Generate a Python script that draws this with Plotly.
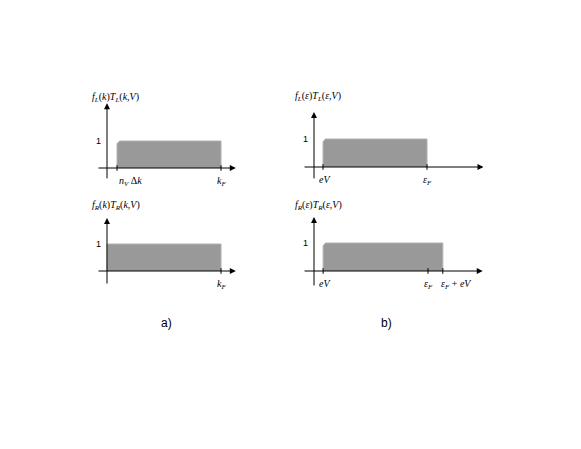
import plotly.graph_objects as go

W, H = 581, 449
PAD = 8  # the page body has an 8px margin
FW, FH = W - 2 * PAD, H - 2 * PAD

# ---- data (schematic values, units of k_F / eps_F) ----
# panel a) top: f_L(k) T_L(k,V)
aTop_x = [0.088, 0.088, 0.11, 1.0, 1.0]
aTop_y = [0, 0.9, 1.0, 1.0, 0]
# panel a) bottom: f_R(k) T_R(k,V)
aBot_x = [0.0, 0.0, 1.0, 1.0]
aBot_y = [0, 1.0, 1.0, 0]
# panel b) top: f_L(eps) T_L(eps,V)
bTop_x = [0.08, 0.08, 0.10, 1.0, 1.0]
bTop_y = [0, 0.9, 1.0, 1.0, 0]
# panel b) bottom: f_R(eps) T_R(eps,V)
bBot_x = [0.08, 0.08, 0.10, 1.13, 1.13]
bBot_y = [0, 0.9, 1.0, 1.0, 0]

aTop_ticks = [0.088, 1.0]
aTop_labels = ["<i>n</i><sub><i>V</i></sub> Δ<i>k</i>", "<i>k</i><sub><i>F</i></sub>"]
aBot_ticks = [1.0]
aBot_labels = ["<i>k</i><sub><i>F</i></sub>"]
bTop_ticks = [0.08, 1.0]
bTop_labels = ["<i>eV</i>", "<i>ε</i><sub><i>F</i></sub>"]
bBot_ticks = [0.08, 1.0, 1.13]
bBot_labels = ["<i>eV</i>", "<i>ε</i><sub><i>F</i></sub>", "<i>ε</i><sub><i>F</i></sub> + <i>eV</i>"]

titles = [
    "<i>f</i><sub><i>L</i></sub>(<i>k</i>)<i>T</i><sub><i>L</i></sub>(<i>k</i>,<i>V</i>)",
    "<i>f</i><sub><i>R</i></sub>(<i>k</i>)<i>T</i><sub><i>R</i></sub>(<i>k</i>,<i>V</i>)",
    "<i>f</i><sub><i>L</i></sub>(<i>ε</i>)<i>T</i><sub><i>L</i></sub>(<i>ε</i>,<i>V</i>)",
    "<i>f</i><sub><i>R</i></sub>(<i>ε</i>)<i>T</i><sub><i>R</i></sub>(<i>ε</i>,<i>V</i>)",
]


def paper_x(px):
    return (px - PAD) / FW


def paper_y(py):
    return 1 - (py - PAD) / FH


# ---- layout of each panel: origin pixel, px per unit x/y, axis extents ----
panels = [
    dict(xs=aTop_x, ys=aTop_y, tv=aTop_ticks, tl=aTop_labels, title=titles[0],
         ox=107, oy=168, sx=114, sy=27, ax=(-0.088, 1.13), ay=(-0.44, 2.4),
         ty=97, tx=90, lx=[None, None]),
    dict(xs=aBot_x, ys=aBot_y, tv=aBot_ticks, tl=aBot_labels, title=titles[1],
         ox=107, oy=271, sx=114, sy=27, ax=(-0.088, 1.13), ay=(-0.52, 1.96),
         ty=205, tx=90, lx=[None]),
    dict(xs=bTop_x, ys=bTop_y, tv=bTop_ticks, tl=bTop_labels, title=titles[2],
         ox=314, oy=167, sx=113, sy=28, ax=(-0.097, 1.5), ay=(-0.46, 1.96),
         ty=96, tx=293, lx=[None, None]),
    dict(xs=bBot_x, ys=bBot_y, tv=bBot_ticks, tl=bBot_labels, title=titles[3],
         ox=314, oy=271, sx=114, sy=28, ax=(-0.096, 1.48), ay=(-0.57, 1.93),
         ty=205, tx=293, lx=[None, None, "left"]),
]

fig = go.Figure()
serif = "Liberation Serif"
sans = "Liberation Sans"
annotations = []

for i, p in enumerate(panels):
    n = "" if i == 0 else str(i + 1)
    xa, ya = "x" + n, "y" + n
    # pixel box of the subplot
    px0, px1 = p["ox"] - 20, p["ox"] + 190
    py0, py1 = p["oy"] + 25, p["oy"] - 75
    xr = [(px0 - p["ox"]) / p["sx"], (px1 - p["ox"]) / p["sx"]]
    yr = [(p["oy"] - py0) / p["sy"], (p["oy"] - py1) / p["sy"]]
    fig.layout["xaxis" + n] = dict(range=xr, domain=[paper_x(px0), paper_x(px1)],
                                   visible=False, anchor=ya)
    fig.layout["yaxis" + n] = dict(range=yr, domain=[paper_y(py0), paper_y(py1)],
                                   visible=False, anchor=xa)

    fig.add_trace(go.Scatter(x=p["xs"], y=p["ys"], xaxis=xa, yaxis=ya, mode="lines",
                             fill="toself", fillcolor="#999999",
                             line=dict(color="#b0b0b0", width=1), hoverinfo="skip",
                             showlegend=False))
    # tick marks on x axis
    fig.add_trace(go.Scatter(x=p["tv"], y=[0] * len(p["tv"]), xaxis=xa, yaxis=ya,
                             mode="markers", marker=dict(symbol="line-ns", size=4,
                             line=dict(color="black", width=1)),
                             hoverinfo="skip", showlegend=False))
    # axes with arrows
    annotations.append(dict(x=p["ax"][1], y=0, ax=p["ax"][0], ay=0, xref=xa, yref=ya,
                            axref=xa, ayref=ya, showarrow=True, arrowhead=2,
                            arrowsize=1.2, arrowwidth=1, arrowcolor="black", text=""))
    annotations.append(dict(x=0, y=p["ay"][1], ax=0, ay=p["ay"][0], xref=xa, yref=ya,
                            axref=xa, ayref=ya, showarrow=True, arrowhead=2,
                            arrowsize=1.2, arrowwidth=1, arrowcolor="black", text=""))
    # "1" label
    annotations.append(dict(x=0, y=1, xref=xa, yref=ya, text="1", showarrow=False,
                            xanchor="right", xshift=-4,
                            font=dict(family=sans, size=9, color="black")))
    # x tick labels
    for v, t, anc in zip(p["tv"], p["tl"], p["lx"]):
        shift = 0
        if t.startswith("<i>n"):
            anc = "left"
        elif anc == "left":
            shift = -4
        elif t == "<i>eV</i>":
            anc, shift = "center", 2
        else:
            anc = "center"
        annotations.append(dict(x=v, y=0, xref=xa, yref=ya, text=t, showarrow=False,
                                yanchor="top", yshift=-5, xanchor=anc, xshift=shift,
                                font=dict(family=serif, size=10, color="black")))
    # y title
    annotations.append(dict(x=paper_x(p["tx"]), y=paper_y(p["ty"]),
                            xref="paper", yref="paper", text=p["title"],
                            showarrow=False, xanchor="left", yanchor="middle",
                            font=dict(family=serif, size=10, color="black")))

annotations.append(dict(x=paper_x(166), y=paper_y(323), xref="paper", yref="paper",
                        text="a)", showarrow=False, xanchor="center", yanchor="middle",
                        font=dict(family=sans, size=12, color="black")))
annotations.append(dict(x=paper_x(386), y=paper_y(323), xref="paper", yref="paper",
                        text="b)", showarrow=False, xanchor="center", yanchor="middle",
                        font=dict(family=sans, size=12, color="black")))

fig.update_layout(width=FW, height=FH, margin=dict(l=0, r=0, t=0, b=0),
                  paper_bgcolor="white", plot_bgcolor="white",
                  annotations=annotations, showlegend=False)

fig.write_html("out.html")
